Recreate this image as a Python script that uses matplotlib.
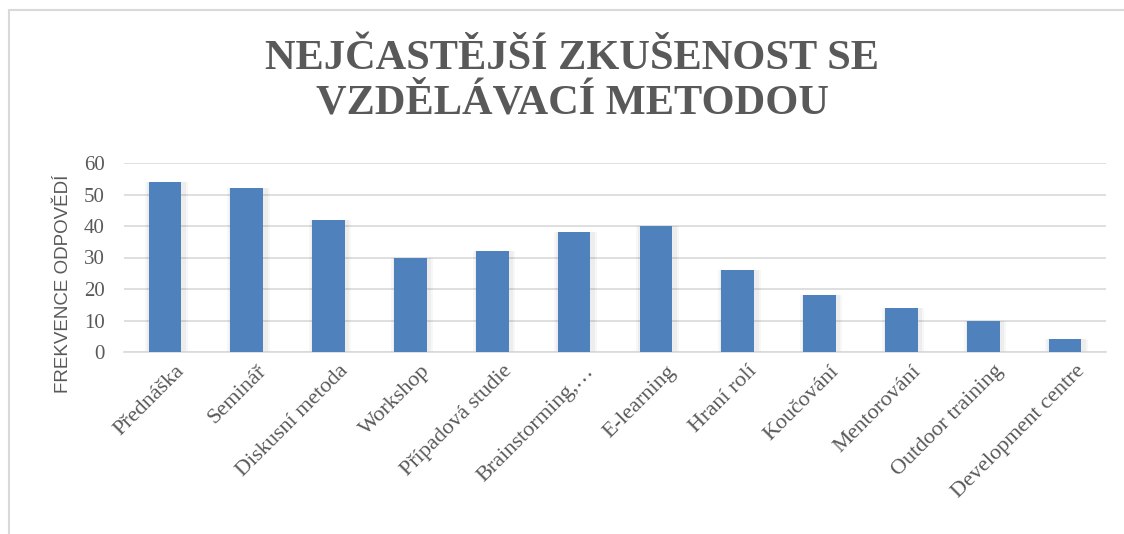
import matplotlib.pyplot as plt
from matplotlib.patches import Rectangle
from matplotlib.transforms import ScaledTranslation
import numpy as np

categories = ['Přednáška', 'Seminář', 'Diskusní metoda', 'Workshop', 'Případová studie',
              'Brainstorming,…', 'E-learning', 'Hraní rolí', 'Koučování', 'Mentorování',
              'Outdoor training', 'Development centre']
values = [54, 52, 42, 30, 32, 38, 40, 26, 18, 14, 10, 4]

W, H = 1124, 534
fig = plt.figure(figsize=(W / 100, H / 100), dpi=100)

# chart border
fig.patches.append(Rectangle((9 / W, -0.1), 1.2, 1 - 10 / H + 0.1, transform=fig.transFigure,
                             fill=False, edgecolor='#d9d9d9', linewidth=1.5))

ax = fig.add_axes([124 / W, 1 - 352 / H, (1106 - 124) / W, (352 - 163) / H])
x = np.arange(len(categories))

# soft shadow behind bars
for w, a in [(0.52, 0.03), (0.47, 0.04)]:
    ax.bar(x + 0.02, values, width=w, color='black', alpha=a, zorder=2)
ax.bar(x, values, width=0.40, color='#4f81bd', zorder=3)

ax.set_xlim(-0.5, len(categories) - 0.5)
ax.set_ylim(0, 60)
ax.set_yticks(range(0, 61, 10))
ax.grid(axis='y', color='#d9d9d9', linewidth=1.2, zorder=0)
for s in ['top', 'right', 'left']:
    ax.spines[s].set_visible(False)
ax.spines['bottom'].set_color('#d9d9d9')
ax.spines['bottom'].set_linewidth(1.2)
ax.tick_params(length=0)
ax.tick_params(axis='y', pad=14)

ax.set_xticks(x)
ax.set_xticklabels(categories, rotation=45, ha='right', rotation_mode='anchor',
                   family='Liberation Serif', fontsize=16, color='#595959')
for lab in ax.get_xticklabels():
    lab.set_transform(lab.get_transform() + ScaledTranslation(0.1, -0.05, fig.dpi_scale_trans))
for lab in ax.get_yticklabels():
    lab.set_family('Liberation Serif')
    lab.set_fontsize(15)
    lab.set_color('#595959')

ax.set_ylabel('FREKVENCE ODPOVĚDÍ', family='Liberation Sans', fontsize=13.5, color='#595959')
ax.yaxis.set_label_coords(-0.053, 0.36)

fig.text(572 / W, 1 - 81 / H, 'NEJČASTĚJŠÍ ZKUŠENOST SE\nVZDĚLÁVACÍ METODOU', ha='center', va='center',
         family='Liberation Serif', fontweight='bold', fontsize=30.5, color='#595959', linespacing=1.22)

fig.savefig('out.png', dpi=100)
